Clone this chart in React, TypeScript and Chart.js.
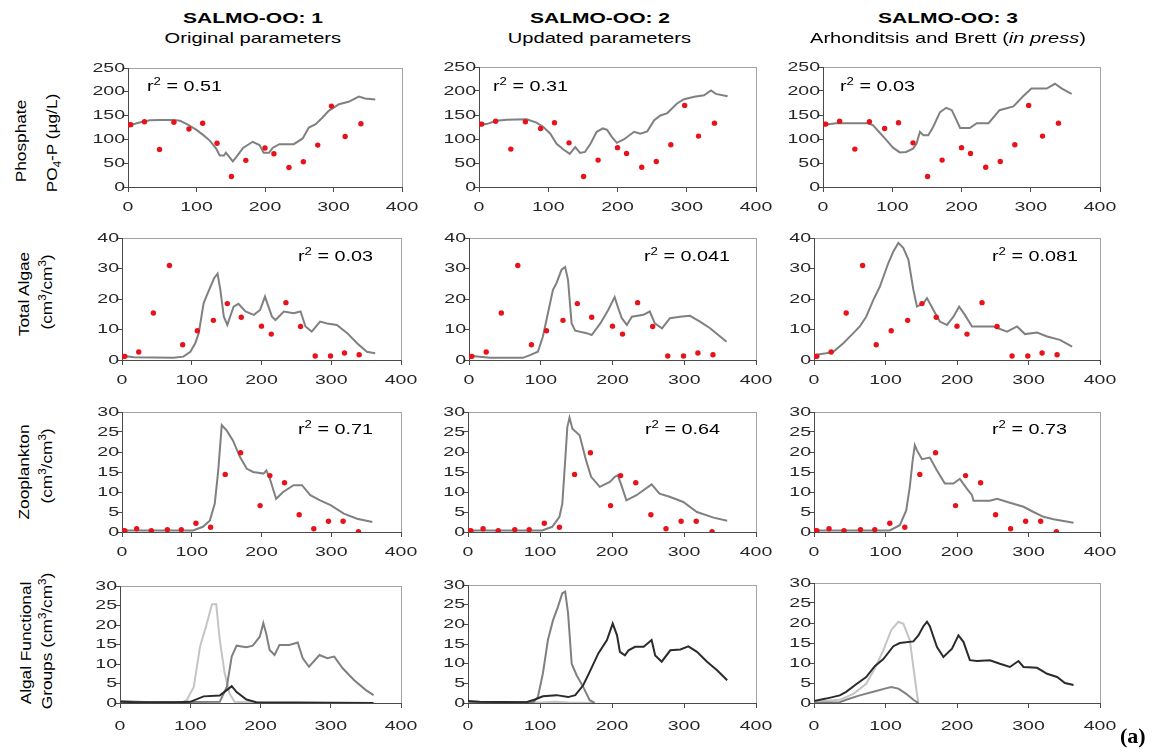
import React, { useEffect, useRef } from 'react';
import { Chart, registerables } from 'chart.js';

Chart.register(...registerables);

// ---------- axis ticks ----------
const xTicks = [0, 100, 200, 300, 400];
const phosTicks = [0, 50, 100, 150, 200, 250];
const algaeTicks = [0, 10, 20, 30, 40];
const zooTicks = [0, 5, 10, 15, 20, 25, 30];
const groupTicks = [0, 5, 10, 15, 20, 25, 30];

// ---------- observations ----------
const obsDaysP = [1, 4, 24, 46, 67, 89, 109, 130, 151, 172, 200, 213, 235, 256, 277, 297, 317, 340];
const obsP = [131, 131, 137, 79, 136, 122, 134, 92, 22, 56, 82, 70, 41, 53, 88, 170, 106, 133];
const obsDaysA = [1, 4, 24, 45, 68, 87, 108, 131, 151, 171, 200, 214, 235, 256, 277, 299, 319, 340];
const obsA = [1.2, 1.2, 2.6, 15.4, 31, 5, 9.6, 13, 18.5, 14, 11.1, 8.5, 18.8, 11, 1.3, 1.3, 2.3, 1.7];
const obsDaysZ = [1, 4, 21, 42, 65, 85, 106, 127, 148, 170, 198, 212, 233, 254, 275, 296, 317, 339];
const obsZ = [0.3, 0.3, 0.8, 0.3, 0.6, 0.6, 2.2, 1.2, 14.4, 19.8, 6.6, 14.1, 12.3, 4.3, 0.8, 2.7, 2.7, 0.1];

// ---------- model: phosphate ----------
const p1Days = [0, 8, 18, 32, 47, 66, 76, 86, 100, 110, 119, 129, 134, 140, 143, 148, 153, 158, 168, 182, 192, 198, 206, 211, 221, 242, 255, 264, 274, 284, 293, 308, 322, 337, 346, 361];
const p1Vals = [132, 132, 136, 140, 141, 141, 139, 132, 120, 109, 98, 80, 66, 66, 72, 63, 54, 63, 82, 95, 88, 72, 72, 82, 90, 90, 102, 125, 132, 146, 160, 174, 179, 190, 186, 184];
const p2Days = [0, 11, 25, 40, 69, 83, 93, 103, 112, 122, 131, 139, 146, 153, 161, 170, 179, 185, 192, 199, 209, 224, 233, 243, 253, 262, 272, 286, 296, 311, 325, 335, 342, 359];
const p2Vals = [130, 131, 138, 140, 141, 134, 125, 111, 90, 78, 69, 83, 71, 73, 90, 115, 122, 119, 104, 92, 99, 115, 111, 116, 139, 149, 154, 174, 183, 188, 191, 201, 194, 189];
const p3Days = [0, 19, 63, 72, 82, 92, 101, 111, 120, 130, 135, 140, 145, 152, 159, 169, 178, 186, 198, 212, 222, 239, 255, 275, 289, 301, 323, 335, 345, 359];
const p3Vals = [129, 133, 133, 129, 113, 97, 82, 72, 73, 80, 90, 115, 108, 108, 125, 156, 165, 160, 123, 123, 133, 133, 160, 168, 189, 205, 205, 215, 205, 194];

// ---------- model: total algae ----------
const a1Days = [0, 17, 74, 88, 98, 105, 110, 117, 122, 132, 137, 141, 146, 151, 160, 167, 177, 189, 198, 205, 210, 215, 220, 232, 246, 256, 263, 272, 284, 294, 308, 323, 337, 351, 363];
const a1Vals = [1.4, 0.9, 0.7, 1.1, 2.7, 5.5, 8.8, 18.6, 21.4, 26.8, 28.3, 23, 14.2, 11.5, 17.5, 18.4, 15.9, 14.8, 16.4, 20.8, 17.5, 14.2, 13.1, 15.9, 15.3, 15.9, 11, 9.3, 12.6, 12, 11.5, 8.8, 5.5, 2.7, 2.2];
const a2Days = [0, 15, 29, 75, 85, 96, 103, 110, 117, 122, 129, 134, 138, 143, 148, 164, 171, 183, 194, 203, 208, 213, 220, 227, 243, 252, 259, 269, 280, 294, 308, 322, 336, 350, 359];
const a2Vals = [1.4, 1.1, 0.7, 0.7, 1.6, 2.7, 7.7, 15.3, 23, 25.2, 29.6, 30.5, 26.3, 12, 9.6, 8.8, 8.2, 12, 16.4, 20.6, 17, 13.7, 11.5, 14.2, 14.8, 15.9, 12, 10.4, 13.7, 14.2, 14.5, 12.6, 10.4, 7.7, 6];
const a3Days = [0, 17, 27, 41, 55, 64, 73, 83, 92, 104, 111, 118, 125, 132, 139, 144, 153, 158, 167, 176, 186, 195, 203, 211, 221, 232, 251, 270, 284, 295, 312, 326, 344, 361];
const a3Vals = [1.6, 2.2, 2.7, 5.5, 8.8, 11, 14.2, 19.7, 24, 31.8, 35.6, 38.4, 36.7, 32.9, 23, 17.5, 18.6, 20.3, 16.4, 12.6, 11.5, 14.2, 17.5, 14.8, 11, 11, 11, 9.3, 11, 8.5, 9, 7.7, 6.6, 4.4];

// ---------- model: zooplankton ----------
const z1Days = [0, 102, 116, 126, 133, 138, 143, 150, 159, 169, 179, 188, 203, 207, 212, 221, 231, 246, 258, 270, 284, 299, 318, 337, 359];
const z1Vals = [0.4, 0.4, 1.3, 2.9, 7.1, 15.4, 26.7, 25.4, 22.9, 18.8, 15.8, 15, 14.6, 15.4, 13.3, 8.3, 10, 11.7, 11.7, 9.2, 7.9, 6.7, 4.6, 3.3, 2.5];
const z2Days = [0, 103, 117, 127, 131, 135, 138, 141, 145, 155, 164, 171, 183, 197, 204, 208, 213, 220, 234, 255, 266, 280, 299, 318, 341, 360];
const z2Vals = [0.4, 0.4, 1.3, 3.8, 7.1, 17.9, 26.3, 28.6, 25.8, 24.2, 17.9, 13.8, 11.3, 12.5, 13.8, 14.2, 11.7, 7.9, 9.2, 11.9, 9.6, 8.8, 7.5, 5, 3.6, 2.8];
const z3Days = [0, 106, 120, 129, 134, 138, 141, 144, 151, 162, 172, 183, 195, 204, 214, 221, 223, 246, 256, 274, 293, 307, 321, 335, 363];
const z3Vals = [0.4, 0.4, 1.7, 5.4, 11.3, 17.9, 21.7, 20.4, 18.2, 18.6, 15.4, 12.1, 12.1, 13.3, 10.8, 9.2, 7.8, 7.8, 8.3, 7.3, 6.3, 5, 3.8, 3.2, 2.3];

// ---------- model: algal functional groups ----------
const g1LightDays = [0, 86, 95, 105, 114, 123, 131, 137, 142, 149, 156, 163, 208];
const g1LightVals = [0, 0, 0.7, 4.1, 14.5, 20, 25.3, 25.3, 16.2, 7.6, 2.4, 0.3, 0];
const g1MidDays = [0, 43, 142, 152, 159, 166, 180, 189, 199, 204, 208, 213, 220, 227, 241, 253, 260, 269, 284, 295, 305, 317, 333, 350, 361];
const g1MidVals = [0.5, 0.2, 0.3, 4.1, 11.9, 14.7, 14.3, 14.7, 17, 20.5, 17.9, 13.6, 12.3, 14.9, 14.9, 15.5, 11.5, 9.3, 12.3, 11.5, 11.9, 8.9, 5.9, 3.3, 2];
const g1DarkDays = [0, 20, 81, 100, 119, 142, 152, 159, 166, 180, 194, 361];
const g1DarkVals = [0.35, 0.2, 0.2, 0.3, 1.7, 1.9, 3.3, 4.3, 2.8, 0.9, 0.2, 0];

const g2MidDays = [0, 91, 97, 104, 111, 118, 125, 131, 135, 139, 144, 151, 160, 169, 176];
const g2MidVals = [0.2, 0.2, 1.5, 7.5, 16, 21, 24.5, 27.9, 28.3, 22.8, 10, 7, 4.1, 0.7, 0];
const g2DarkDays = [0, 16, 81, 93, 104, 123, 139, 149, 160, 169, 181, 193, 201, 207, 211, 218, 223, 232, 244, 255, 260, 269, 281, 295, 306, 318, 332, 346, 360];
const g2DarkVals = [0.5, 0.3, 0.2, 0.9, 1.7, 2, 1.5, 2, 4.5, 7.9, 12.6, 16, 20.2, 17.2, 13, 12.1, 13.4, 14.3, 14.3, 16, 12.1, 10.5, 13.4, 13.6, 14.4, 13, 10.5, 8.3, 5.8];
const g2LightDays = [0, 100, 120, 140, 175];
const g2LightVals = [0.1, 0.1, 0.3, 0.1, 0];

const g3DarkDays = [0, 17, 36, 45, 59, 73, 85, 97, 111, 120, 139, 146, 153, 158, 162, 172, 181, 193, 202, 209, 218, 228, 246, 260, 274, 286, 293, 312, 326, 340, 351, 363];
const g3DarkVals = [0.5, 1.1, 1.9, 2.8, 4.7, 6.5, 9.2, 11, 14.2, 15, 15.4, 16.9, 19.2, 20.3, 19.2, 14, 11.5, 13.6, 16.9, 15.3, 10.7, 10.5, 10.7, 9.8, 9, 10.5, 9, 8.8, 7.3, 6.5, 5, 4.5];
const g3LightDays = [0, 36, 55, 73, 85, 97, 108, 118, 125, 134, 139, 144, 146];
const g3LightVals = [0.3, 0.8, 2.3, 4.8, 8.6, 13.2, 18.2, 20.3, 19.8, 15.7, 9, 2.3, 0];
const g3MidDays = [0, 36, 45, 64, 83, 99, 108, 118, 129, 139, 146];
const g3MidVals = [0, 0.2, 0.8, 1.9, 2.8, 3.6, 4, 3.6, 2.3, 0.8, 0];

// ---------- text ----------
const columnTitles = ['SALMO-OO: 1', 'SALMO-OO: 2', 'SALMO-OO: 3'];
const rSquared = ['0.51', '0.31', '0.03', '0.03', '0.041', '0.081', '0.71', '0.64', '0.73'];

// ---------- styles ----------
const FONT = '"Liberation Sans", Arial, Helvetica, sans-serif';
const RED = '#e8121a';
const GREY = '#808080';
const LIGHT = '#c4c4c4';
const DARK = '#2b2b2b';
const AXIS = '#4a4a4a';
const FRAME = '#a3a3a3';
const TICK_COLOR = '#262626';
const TICK_SIZE = 13;
const TICK_STRETCH = 1.5;

const YW = 48;
const PT = 12;
const PR = 26;
const XH = 36;

type Series = { days: number[]; vals: number[]; color: string; dots?: boolean };
type PanelDef = { rect: [number, number, number, number]; yTicks: number[]; gap: number; series: Series[] };

const dots = (days: number[], vals: number[]): Series => ({ days, vals, color: RED, dots: true });
const line = (days: number[], vals: number[], color: string = GREY): Series => ({ days, vals, color });

const panels: PanelDef[] = [
  { rect: [128, 68, 402, 187], yTicks: phosTicks, gap: 20, series: [dots(obsDaysP, obsP), line(p1Days, p1Vals)] },
  { rect: [479, 67, 756, 187], yTicks: phosTicks, gap: 20, series: [dots(obsDaysP, obsP), line(p2Days, p2Vals)] },
  { rect: [823, 67, 1100, 187], yTicks: phosTicks, gap: 20, series: [dots(obsDaysP, obsP), line(p3Days, p3Vals)] },
  { rect: [122, 238, 401, 360], yTicks: algaeTicks, gap: 20, series: [dots(obsDaysA, obsA), line(a1Days, a1Vals)] },
  { rect: [469, 238, 756, 360], yTicks: algaeTicks, gap: 20, series: [dots(obsDaysA, obsA), line(a2Days, a2Vals)] },
  { rect: [814, 238, 1100, 360], yTicks: algaeTicks, gap: 20, series: [dots(obsDaysA, obsA), line(a3Days, a3Vals)] },
  { rect: [122, 412, 401, 532], yTicks: zooTicks, gap: 20, series: [dots(obsDaysZ, obsZ), line(z1Days, z1Vals)] },
  { rect: [468, 412, 756, 532], yTicks: zooTicks, gap: 20, series: [dots(obsDaysZ, obsZ), line(z2Days, z2Vals)] },
  { rect: [814, 412, 1100, 532], yTicks: zooTicks, gap: 20, series: [dots(obsDaysZ, obsZ), line(z3Days, z3Vals)] },
  { rect: [120, 586, 401, 703], yTicks: groupTicks, gap: 23, series: [line(g1DarkDays, g1DarkVals, DARK), line(g1MidDays, g1MidVals, GREY), line(g1LightDays, g1LightVals, LIGHT)] },
  { rect: [468, 585, 756, 703], yTicks: groupTicks, gap: 23, series: [line(g2DarkDays, g2DarkVals, DARK), line(g2MidDays, g2MidVals, GREY), line(g2LightDays, g2LightVals, LIGHT)] },
  { rect: [814, 583, 1100, 703], yTicks: groupTicks, gap: 23, series: [line(g3DarkDays, g3DarkVals, DARK), line(g3MidDays, g3MidVals, GREY), line(g3LightDays, g3LightVals, LIGHT)] },
];

const framePlugin = {
  id: 'plotFrame',
  beforeDraw(chart: any) {
    const { ctx, chartArea: a } = chart;
    ctx.save();
    ctx.strokeStyle = FRAME;
    ctx.lineWidth = 1;
    ctx.strokeRect(Math.round(a.left) + 0.5, Math.round(a.top) + 0.5, Math.round(a.right - a.left), Math.round(a.bottom - a.top));
    ctx.restore();
  },
};

function wideLabels(gap: number) {
  return {
    id: 'wideTickLabels',
    afterDraw(chart: any) {
      const { ctx } = chart;
      const xs = chart.scales.x;
      const ys = chart.scales.y;
      ctx.save();
      ctx.font = `${TICK_SIZE}px ${FONT}`;
      ctx.fillStyle = TICK_COLOR;
      ctx.textBaseline = 'middle';
      ctx.textAlign = 'center';
      for (const t of xs.ticks) {
        ctx.save();
        ctx.translate(xs.getPixelForValue(t.value), xs.top + gap);
        ctx.scale(TICK_STRETCH, 1);
        ctx.fillText(String(t.label), 0, 0);
        ctx.restore();
      }
      ctx.textAlign = 'right';
      for (const t of ys.ticks) {
        ctx.save();
        ctx.translate(ys.right - 3, ys.getPixelForValue(t.value));
        ctx.scale(TICK_STRETCH, 1);
        ctx.fillText(String(t.label), 0, 0);
        ctx.restore();
      }
      ctx.restore();
    },
  };
}

function Panel({ def }: { def: PanelDef }) {
  const ref = useRef<HTMLCanvasElement>(null);
  const [l, t, r, b] = def.rect;
  const w = r - l + YW + PR;
  const h = b - t + PT + XH;
  useEffect(() => {
    const yMax = def.yTicks[def.yTicks.length - 1];
    const chart = new Chart(ref.current as HTMLCanvasElement, {
      type: 'scatter',
      data: {
        datasets: def.series.map((s) => ({
          data: s.days.map((d, i) => ({ x: d, y: s.vals[i] })),
          showLine: !s.dots,
          borderColor: s.color,
          backgroundColor: s.color,
          borderWidth: s.dots ? 0 : 2,
          pointRadius: s.dots ? 2.7 : 0,
          pointHoverRadius: 0,
          tension: 0,
        })),
      },
      options: {
        animation: false,
        responsive: false,
        events: [],
        layout: { padding: { left: 0, top: PT, right: PR, bottom: 0 } },
        plugins: { legend: { display: false }, tooltip: { enabled: false } },
        scales: {
          x: {
            type: 'linear',
            min: 0,
            max: 400,
            afterBuildTicks: (s: any) => { s.ticks = xTicks.map((v) => ({ value: v })); },
            afterFit: (s: any) => { s.height = XH; },
            ticks: { display: false },
            grid: { display: true, drawOnChartArea: false, drawTicks: true, tickLength: 5, color: AXIS, lineWidth: 1 },
            border: { display: true, color: AXIS, width: 1 },
          },
          y: {
            type: 'linear',
            min: 0,
            max: yMax,
            afterBuildTicks: (s: any) => { s.ticks = def.yTicks.map((v) => ({ value: v })); },
            afterFit: (s: any) => { s.width = YW; },
            ticks: { display: false },
            grid: { display: true, drawOnChartArea: false, drawTicks: true, tickLength: 5, color: AXIS, lineWidth: 1 },
            border: { display: true, color: AXIS, width: 1 },
          },
        },
      } as any,
      plugins: [framePlugin, wideLabels(def.gap)],
    });
    return () => chart.destroy();
  }, [def]);
  return (
    <canvas
      ref={ref}
      width={w}
      height={h}
      style={{ position: 'absolute', left: l - YW, top: t - PT, width: w, height: h }}
    />
  );
}

const titleCenters = [252.5, 599.5, 947.5];
const rPositions: [number, number][] = [
  [146.7, 90.7], [492.7, 90.7], [840, 90.7],
  [297.7, 260.7], [644.3, 260.7], [992.3, 260.7],
  [297.7, 433.3], [645, 433.3], [992.3, 433.3],
];

function Rotated({ x, y, children }: { x: number; y: number; children: React.ReactNode }) {
  return (
    <div
      style={{
        position: 'absolute',
        left: x,
        top: y,
        transform: 'translate(-50%, -50%) rotate(-90deg) scaleX(1.15)',
        whiteSpace: 'nowrap',
        font: `15px ${FONT}`,
        lineHeight: '17px',
        color: '#000',
      }}
    >
      {children}
    </div>
  );
}

const sup: React.CSSProperties = { fontSize: 10, position: 'relative', top: -6 };
const sub: React.CSSProperties = { fontSize: 10, position: 'relative', top: 4 };

export default function App() {
  const subtitles = [
    <>Original parameters</>,
    <>Updated parameters</>,
    <>Arhonditsis and Brett (<i>in press</i>)</>,
  ];
  return (
    <div style={{ position: 'fixed', left: 0, top: 0, width: 1154, height: 753, background: '#fff', overflow: 'hidden', fontFamily: FONT }}>
      {panels.map((p, i) => (
        <Panel key={i} def={p} />
      ))}
      {titleCenters.map((cx, i) => (
        <React.Fragment key={'t' + i}>
          <div style={{ position: 'absolute', left: cx - 200, width: 400, top: 9.6, textAlign: 'center', font: `bold 15px ${FONT}`, lineHeight: '15px', color: '#000' }}>
            <span style={{ display: 'inline-block', transform: 'scaleX(1.4)' }}>{columnTitles[i]}</span>
          </div>
          <div style={{ position: 'absolute', left: cx - 200, width: 400, top: 29.6, textAlign: 'center', font: `15px ${FONT}`, lineHeight: '15px', color: '#000' }}>
            <span style={{ display: 'inline-block', transform: 'scaleX(1.34)', whiteSpace: 'nowrap' }}>{subtitles[i]}</span>
          </div>
        </React.Fragment>
      ))}
      {rPositions.map(([x, y], i) => (
        <div key={'r' + i} style={{ position: 'absolute', left: x, top: y - 12.7, font: `15px ${FONT}`, lineHeight: '15px', color: '#000', whiteSpace: 'nowrap', transform: 'scaleX(1.32)', transformOrigin: '0 0' }}>
          r<span style={sup}>2</span> = {rSquared[i]}
        </div>
      ))}
      <Rotated x={20} y={141}>Phosphate</Rotated>
      <Rotated x={52} y={143}>PO<span style={sub}>4</span>-P (µg/L)</Rotated>
      <Rotated x={23} y={294}>Total Algae</Rotated>
      <Rotated x={47} y={292}>(cm<span style={sup}>3</span>/cm<span style={sup}>3</span>)</Rotated>
      <Rotated x={23} y={472}>Zooplankton</Rotated>
      <Rotated x={47} y={466}>(cm<span style={sup}>3</span>/cm<span style={sup}>3</span>)</Rotated>
      <Rotated x={25} y={643}>Algal Functional</Rotated>
      <Rotated x={47} y={641}>Groups (cm<span style={sup}>3</span>/cm<span style={sup}>3</span>)</Rotated>
      <div style={{ position: 'absolute', left: 1120, top: 725, font: 'bold 22px "Liberation Serif", "Times New Roman", serif', lineHeight: '22px', color: '#000' }}>(a)</div>
    </div>
  );
}
